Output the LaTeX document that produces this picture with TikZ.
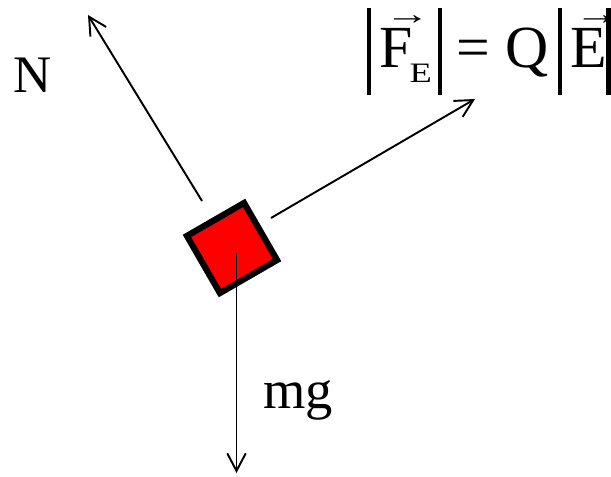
\documentclass[tikz,border=0pt]{standalone}
\usepackage{fontspec}
\setmainfont{Liberation Serif}
\usepackage{tikz}
\usetikzlibrary{arrows.meta}
% pieces of the field formula
\newcommand{\vbar}{\rule[-15.3pt]{2.3pt}{49.4pt}}
\newcommand{\glyphat}[2]{\rlap{\hspace{#1}#2}}
\newcommand{\vecmark}{\raisebox{25pt}{\scalebox{1.9}[1.3]{\fontsize{13.5}{14}\selectfont →}}}

\begin{document}
\begin{tikzpicture}[
  x=0.02cm, y=-0.02cm,
  block/.style={draw, line width=3.5pt, fill=red, minimum size=1.32cm, inner sep=0pt, rotate=30},
  force/.style={line width=1.1pt, -{Straight Barb[length=10pt, width=10.5pt, line width=1.1pt]}},
  lbl/.style={inner sep=0pt, font=\fontsize{30}{36}\selectfont}
]
\useasboundingbox (0,0) rectangle (611,476);

% Block on the incline
\node[block] (block) at (232,248) {};

% Force arrows
\coordinate (nstart) at (202,201);
\coordinate (ntip) at (88,15);
\coordinate (fstart) at (271,218);
\coordinate (ftip) at (475,99);
\coordinate (gstart) at (236.5,253);
\coordinate (gtip) at (236.5,473);
\draw[force] (nstart) -- (ntip);
\draw[force] (fstart) -- (ftip);
\draw[force] (gstart) -- (gtip);

% Labels
\node[lbl, anchor=base west] (nlbl) at (13,93) {N};
\node[lbl, anchor=base west, font=\fontsize{31}{36}\selectfont] (glbl) at (263,408) {mg};
\node[lbl, anchor=base west, font=\fontsize{34}{40}\selectfont] (flbl) at (367,68)
  {\makebox[138pt][l]{%
    \glyphat{0pt}{\vbar}%
    \glyphat{7pt}{F}%
    \glyphat{10pt}{\vecmark}%
    \glyphat{24pt}{\raisebox{-8.5pt}{\scalebox{1.3}[1]{\fontsize{16}{17}\selectfont E}}}%
    \glyphat{40.3pt}{\vbar}%
    \glyphat{50.5pt}{=}%
    \glyphat{78.8pt}{Q}%
    \glyphat{108.3pt}{\vbar}%
    \glyphat{115.8pt}{E}%
    \glyphat{118pt}{\vecmark}%
    \glyphat{136.1pt}{\vbar}}};

\end{tikzpicture}
\end{document}
